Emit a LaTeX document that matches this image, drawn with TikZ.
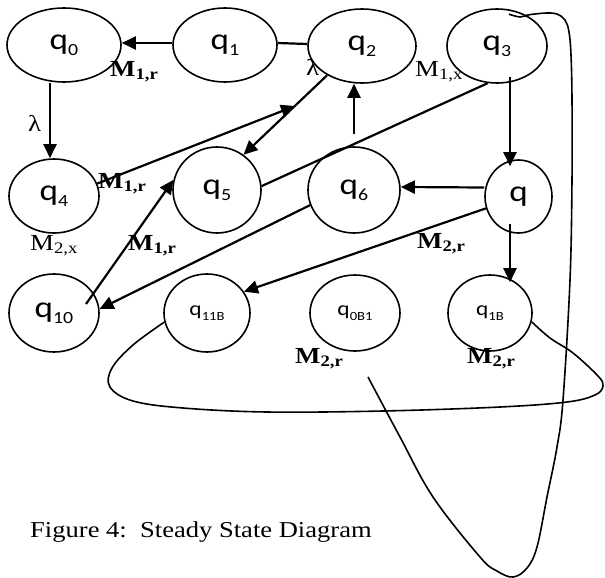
\documentclass[tikz,border=0pt]{standalone}
\usepackage{fontspec}
\setmainfont{Liberation Serif}[FakeStretch=1.17]
\newfontfamily\statefont{Carlito}[FakeStretch=1.17]
\usetikzlibrary{shapes.geometric,arrows.meta}

% state name with lowered index
\newcommand\qname[4]{q\raisebox{-#3}{\fontsize{#2}{#2}\selectfont #1}#4}
% edge labels: bold and plain M with subscript
\newcommand\Mbold[1]{\textbf{M\raisebox{-3pt}{\fontsize{16}{16}\selectfont #1}}}
\newcommand\Mplain[1]{M\raisebox{-3pt}{\fontsize{16}{16}\selectfont #1}}

\tikzset{
  state/.style={draw, ellipse, line width=1.6pt, inner sep=0pt,
                font=\statefont\fontsize{30}{30}\selectfont},
  smallstate/.style={state, font=\statefont\fontsize{20}{20}\selectfont},
  arr/.style={line width=2.2pt, -{Triangle[length=14pt,width=13pt]}},
  link/.style={line width=2.2pt},
  curve/.style={line width=1.6pt, line join=round},
  lbl/.style={inner sep=0pt, anchor=base west, font=\fontsize{23}{23}\selectfont},
}

\begin{document}
\begin{tikzpicture}[x=1pt, y=-1pt]
  \fill[white] (0,0) rectangle (605,578);
  \useasboundingbox (0,0) rectangle (605,578);

  % states
  \node[state, minimum width=114pt, minimum height=74pt] (q0) at (64,45) {\qname{0}{17}{6pt}{}};
  \node[state, minimum width=104pt, minimum height=74pt] (q1) at (225,45) {\qname{1}{17}{6pt}{}};
  \node[state, minimum width=108pt, minimum height=74pt] (q2) at (362,46) {\qname{2}{17}{6pt}{}};
  \node[state, minimum width=100pt, minimum height=74pt] (q3) at (497,46) {\qname{3}{17}{6pt}{}};
  \node[state, minimum width=90pt, minimum height=74pt] (q4) at (54,196) {\qname{4}{17}{6pt}{}};
  \node[state, minimum width=88pt, minimum height=86pt] (q5) at (217,190) {\qname{5}{17}{6pt}{}};
  \node[state, minimum width=92pt, minimum height=86pt] (q6) at (354,190) {\qname{6}{17}{6pt}{}};
  \node[state, minimum width=67pt, minimum height=73pt] (q) at (518.5,196.5) {q};
  \node[state, minimum width=90pt, minimum height=78pt] (q10) at (54,313) {\qname{10}{17}{6pt}{}};
  \node[smallstate, minimum width=86pt, minimum height=78pt] (q11B) at (207,313) {\qname{11B}{12.5}{4.5pt}{}};
  \node[smallstate, minimum width=90pt, minimum height=76pt] (q0B1) at (355,313) {\qname{0B1}{12.5}{4.5pt}{}};
  \node[smallstate, minimum width=84pt, minimum height=76pt] (q1B) at (490,313) {\qname{1B}{12.5}{4.5pt}{}};

  % free ends
  \coordinate (tipA) at (295,106);
  \coordinate (tail) at (368,377);

  % transitions
  \draw[arr] ([yshift=2pt]q1.west) -- ([yshift=2pt]q0.east);
  \draw[link] ([yshift=2pt]q1.east) -- ([yshift=2pt]q2.west);
  \draw[arr] ([xshift=-14pt]q0.south) -- ([xshift=-4pt]q4.north);
  \draw[arr] (q4.16) -- (tipA);
  \draw[arr] (q2.220) -- (q5.53);
  \draw[arr] ([yshift=12pt]q6.north) -- ([xshift=-8pt]q2.south);
  \draw[link] (q5.5) -- (q3.256);
  \draw[arr] ([xshift=13pt,yshift=7pt]q3.south) -- ([xshift=-8.5pt,yshift=-7pt]q.north);
  \draw[arr] ([yshift=9pt]q.west) -- ([yshift=3pt]q6.east);
  \draw[arr] (q6.199) -- (q10.5);
  \draw[arr] ([xshift=32pt,yshift=9pt]q10.center) -- (q5.167);
  \draw[arr] (q.200) -- (q11B.30);
  \draw[arr] ([xshift=-8.5pt,yshift=10pt]q.south) -- ([xshift=20pt,yshift=-8pt]q1B.north);

  % loop under the lower row
  \draw[curve] plot[smooth, tension=0.6] coordinates {
    (q11B.192) (133,345) (112,368) (110,387) (133,401) (183,408) (267,412)
    (383,411) (500,407) (567,402) (595,395) (603,386) (598,376) (573,353)
    (550,338) (q1B.348)};

  % long curve from q3 down the right side
  \draw[curve] plot[smooth, tension=0.6] coordinates {
    ([xshift=12pt,yshift=-6pt]q3.north) (520,17) (528,15) (535,14) (547,13)
    (557,14) (565,20) (569,32) (571,55) (572,100) (572,180) (570,280)
    (563,400) (557,447) (547,497) (537,547) (527,568) (513,577) (497,571)
    (480,557) (433,497) (400,437) (tail)};

  % labels
  \node[lbl] (l1) at (110,77) {\Mbold{1,r}};
  \node[lbl] (l2) at (28,131) {λ};
  \node[lbl] (l3) at (306,76) {λ};
  \node[lbl] (l4) at (415,77) {\Mplain{1,x}};
  \node[lbl] (l5) at (98,188) {\Mbold{1,r}};
  \node[lbl] (l6) at (30,250) {\Mplain{2,x}};
  \node[lbl] (l7) at (128,250) {\Mbold{1,r}};
  \node[lbl] (l8) at (417,248) {\Mbold{2,r}};
  \node[lbl] (l9) at (295,363) {\Mbold{2,r}};
  \node[lbl] (l10) at (467,363) {\Mbold{2,r}};

  % caption
  \node[inner sep=0pt, anchor=base west, font=\fontsize{22.7}{27}\selectfont]
    (cap) at (30,537) {Figure 4:\ \ Steady State Diagram};
\end{tikzpicture}
\end{document}
